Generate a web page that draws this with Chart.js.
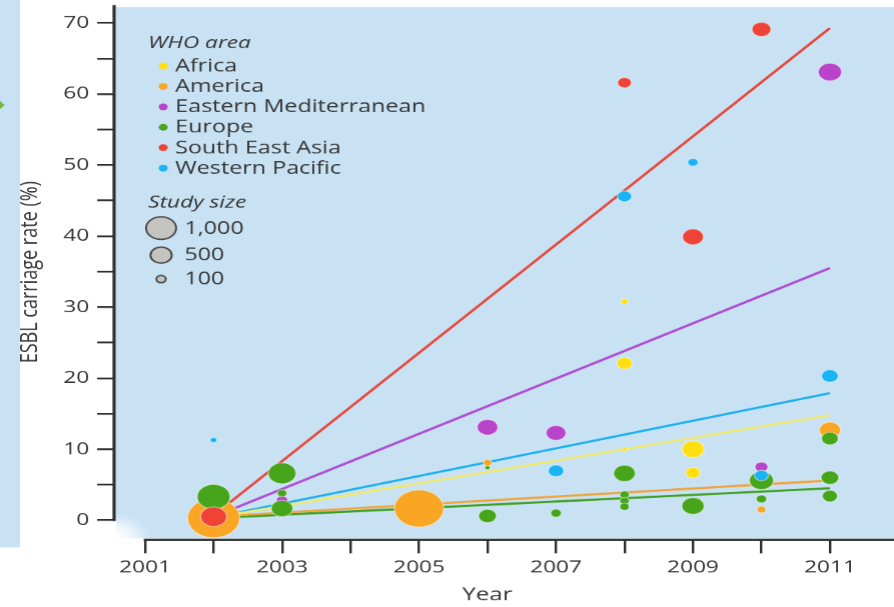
<!DOCTYPE html>
<html>
<head>
<meta charset="utf-8">
<script src="https://cdn.jsdelivr.net/npm/chart.js@4.4.1/dist/chart.umd.min.js"></script>
<style>
  html, body { margin: 0; padding: 0; background: #fff; overflow: hidden; }
  #wrap {
    position: absolute; left: 0; top: 0;
    width: 672px; height: 607px;
    transform: scaleX(1.330357); transform-origin: 0 0;
  }
</style>
</head>
<body>
<div id="wrap"><canvas id="chart" width="672" height="607"></canvas></div>
<script>
// ---- data ----
const yearTicks = [2001, 2002, 2003, 2004, 2005, 2006, 2007, 2008, 2009, 2010, 2011];
const rateTicks = [0, 5, 10, 15, 20, 25, 30, 35, 40, 45, 50, 55, 60, 65, 70];
const regions = ['Africa', 'America', 'Eastern Mediterranean', 'Europe', 'South East Asia', 'Western Pacific'];
const studySizeKey = [1000, 500, 100];

// one study per entry: year, ESBL carriage rate (%), study size (n)
const africaYear = [2008, 2008, 2008, 2009, 2009];
const africaRate = [30.8, 22.1, 10.0, 10.0, 6.7];
const africaSize = [60, 270, 30, 550, 230];

const americaYear = [2002, 2005, 2006, 2010, 2011];
const americaRate = [0.3, 1.65, 8.1, 1.5, 12.7];
const americaSize = [3000, 2700, 80, 90, 500];

const emedYear = [2003, 2006, 2007, 2010, 2011];
const emedRate = [2.8, 13.1, 12.3, 7.5, 63.1];
const emedSize = [150, 480, 440, 190, 600];

const europeYear = [2002, 2003, 2003, 2003, 2006, 2006, 2007, 2008, 2008, 2008, 2008, 2009, 2010, 2010, 2011, 2011, 2011];
const europeRate = [3.3, 6.6, 3.8, 1.65, 7.4, 0.6, 1.0, 6.6, 3.6, 2.7, 1.9, 2.0, 5.6, 3.0, 11.5, 6.0, 3.4];
const europeSize = [1200, 850, 100, 520, 30, 350, 125, 520, 100, 100, 100, 550, 640, 125, 310, 350, 260];

const seaYear = [2002, 2008, 2009, 2010];
const seaRate = [0.5, 61.6, 39.9, 69.1];
const seaSize = [750, 210, 490, 400];

const wpacYear = [2002, 2007, 2008, 2009, 2010, 2011];
const wpacRate = [11.3, 6.95, 45.6, 50.4, 6.3, 20.3];
const wpacSize = [50, 270, 230, 120, 220, 310];

// fitted trend per region, value at 2002 and at 2011
const trendYears = [2002, 2011];
const trendFrom = [0.4, 0.5, 0.5, 0.3, 0.7, 0.4];
const trendTo = [14.8, 5.6, 35.5, 4.5, 69.3, 17.9];

// ---- styling ----
const pointColors = ['#ffdf12', '#f8a623', '#b744cb', '#46a51b', '#ee4336', '#19b4f3'];
const lineColors = ['#f1ea6a', '#f1a43c', '#b04fd3', '#40a024', '#e8483b', '#1bb0ee'];
const drawOrder = [3, 6, 5, 4, 2, 1];   // lower = drawn later (on top)
const PLOT_BG = '#c8e2f4';
const AXIS = '#2e2e2e';
const TEXT = '#353535';
const FONT = '"Open Sans", "Liberation Sans", sans-serif';

const studyRadius = n => 0.357 * Math.sqrt(n);

const studies = [
  [africaYear, africaRate, africaSize],
  [americaYear, americaRate, americaSize],
  [emedYear, emedRate, emedSize],
  [europeYear, europeRate, europeSize],
  [seaYear, seaRate, seaSize],
  [wpacYear, wpacRate, wpacSize]
];

const trendSets = regions.map((name, i) => ({
  type: 'line',
  label: name + ' trend',
  data: trendYears.map((yr, k) => ({ x: yr, y: k === 0 ? trendFrom[i] : trendTo[i] })),
  borderColor: lineColors[i],
  borderWidth: 2.2,
  pointRadius: 0,
  tension: 0,
  fill: false,
  order: 20 + i
}));

const bubbleSets = regions.map((name, i) => {
  const [yrs, rates, sizes] = studies[i];
  return {
    type: 'bubble',
    label: name,
    data: yrs.map((yr, k) => ({ x: yr, y: rates[k], r: studyRadius(sizes[k]) })),
    backgroundColor: pointColors[i],
    borderColor: 'rgba(255,255,255,0.45)',
    borderWidth: 1,
    hoverRadius: 0,
    order: drawOrder[i]
  };
});

// ---- decorations: panel background, axis lines, key ----
const panelPlugin = {
  id: 'panel',
  beforeDraw(chart) {
    const { ctx, chartArea: a } = chart;
    ctx.save();
    ctx.fillStyle = '#fff';
    ctx.fillRect(0, 0, chart.width, chart.height);
    ctx.fillStyle = PLOT_BG;
    ctx.fillRect(0, 0, 15, 547);
    ctx.fillRect(a.left + 1.2, a.top + 2, a.right - a.left - 1.2, a.bottom - a.top - 3);
    const g = ctx.createRadialGradient(a.left + 1, a.bottom, 0, a.left + 1, a.bottom, 26);
    g.addColorStop(0, 'rgba(255,255,255,1)');
    g.addColorStop(0.45, 'rgba(255,255,255,0.7)');
    g.addColorStop(1, 'rgba(255,255,255,0)');
    ctx.fillStyle = g;
    ctx.fillRect(a.left + 1, a.bottom - 27, 27, 27);
    // small arrow at the left margin
    ctx.fillStyle = '#72b843';
    ctx.beginPath();
    ctx.moveTo(0, 101); ctx.lineTo(3.5, 105); ctx.lineTo(0, 109); ctx.closePath();
    ctx.fill();
    ctx.restore();
  },
  afterDraw(chart) {
    const { ctx, chartArea: a, scales: { x, y } } = chart;
    ctx.save();
    ctx.strokeStyle = AXIS;
    ctx.lineCap = 'butt';
    // vertical axis from the top down to zero
    ctx.lineWidth = 2.4;
    ctx.beginPath();
    ctx.moveTo(a.left - 0.3, a.top);
    ctx.lineTo(a.left - 0.3, y.getPixelForValue(0) + 0.9);
    ctx.stroke();
    // horizontal axis from the first year to the right edge
    ctx.lineWidth = 2;
    ctx.beginPath();
    ctx.moveTo(x.getPixelForValue(yearTicks[0]) - 1, a.bottom + 0.6);
    ctx.lineTo(chart.width, a.bottom + 0.6);
    ctx.stroke();

    // axis title below the years
    ctx.fillStyle = TEXT;
    ctx.font = '18px ' + FONT;
    ctx.textAlign = 'center';
    ctx.textBaseline = 'middle';
    ctx.fillText('Year', 366, 595);

    // key: WHO area
    ctx.textAlign = 'left';
    ctx.font = 'italic 17px ' + FONT;
    ctx.fillText('WHO area', 111.3, 43);
    ctx.font = '17.5px ' + FONT;
    regions.forEach((name, i) => {
      const cy = 66 + i * 20.4;
      ctx.fillStyle = pointColors[i];
      ctx.beginPath();
      ctx.arc(122.6, cy, 3.4, 0, Math.PI * 2);
      ctx.fill();
      ctx.fillStyle = TEXT;
      ctx.fillText(name, 131.6, cy + 0.5);
    });

    // key: study size
    ctx.font = 'italic 17px ' + FONT;
    ctx.fillText('Study size', 111.3, 203);
    ctx.font = '17.5px ' + FONT;
    const rows = [228, 255, 279];
    studySizeKey.forEach((n, i) => {
      ctx.fillStyle = '#c6c4c1';
      ctx.strokeStyle = '#4a4a4a';
      ctx.lineWidth = 1.5;
      ctx.beginPath();
      ctx.arc(121, rows[i], studyRadius(n), 0, Math.PI * 2);
      ctx.fill();
      ctx.stroke();
      ctx.fillStyle = TEXT;
      ctx.fillText(n.toLocaleString('en-US'), 138.5, rows[i] + 0.5);
    });
    ctx.restore();
  }
};

new Chart(document.getElementById('chart'), {
  type: 'bubble',
  data: { datasets: [...trendSets, ...bubbleSets] },
  options: {
    responsive: false,
    animation: false,
    events: [],
    devicePixelRatio: 1.33,
    layout: { autoPadding: false, padding: { top: 5, left: 0, right: 0, bottom: 0 } },
    plugins: { legend: { display: false }, tooltip: { enabled: false } },
    scales: {
      x: {
        type: 'linear',
        min: 2000.553,
        max: 2011.947,
        afterBuildTicks: s => { s.ticks = yearTicks.map(v => ({ value: v })); },
        afterFit: s => { s.height = 68; s.paddingLeft = 0; s.paddingRight = 0; },
        border: { display: false },
        grid: { drawOnChartArea: false, drawTicks: true, tickLength: 14, color: AXIS, lineWidth: 1.8 },
        ticks: {
          autoSkip: false, maxRotation: 0, padding: 4,
          color: TEXT, font: { family: FONT, size: 17 },
          callback: v => (v % 2 === 1 ? String(v) : '')
        }
      },
      y: {
        type: 'linear',
        min: -2.676,
        max: 72.535,
        afterBuildTicks: s => { s.ticks = rateTicks.map(v => ({ value: v })); },
        afterFit: s => { s.width = 86; s.paddingTop = 0; s.paddingBottom = 0; },
        border: { display: false },
        grid: { drawOnChartArea: false, drawTicks: true, tickLength: 13, color: AXIS, lineWidth: 1.8 },
        ticks: {
          autoSkip: false, padding: 6,
          color: TEXT, font: { family: FONT, size: 17 },
          callback: v => (v % 10 === 0 ? String(v) : '')
        },
        title: {
          display: true,
          text: 'ESBL carriage rate (%)',
          color: TEXT,
          font: { family: FONT, size: 18 },
          padding: { top: 12, bottom: 0 }
        }
      }
    }
  },
  plugins: [panelPlugin]
});
</script>
</body>
</html>
